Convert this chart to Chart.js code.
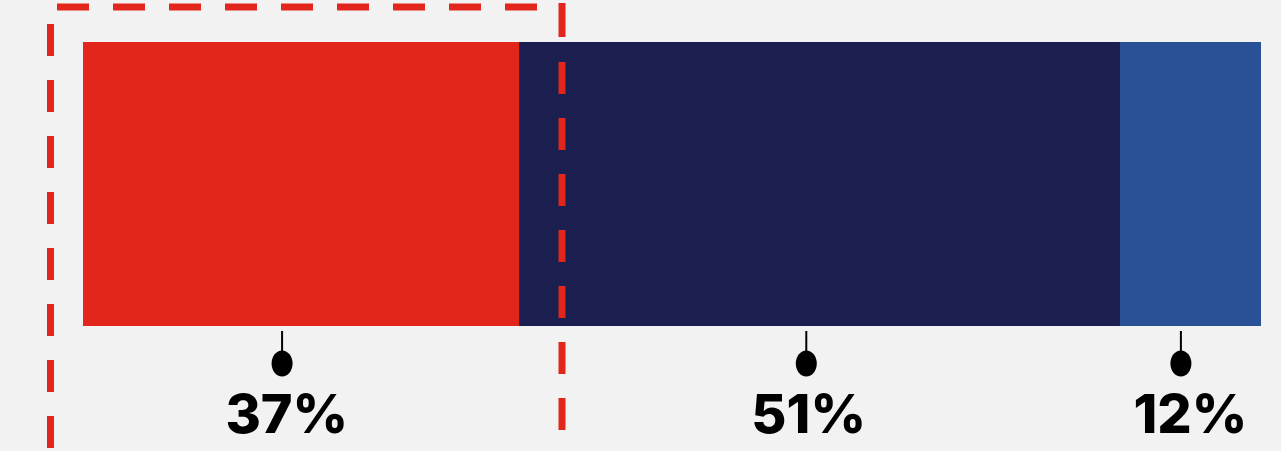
<!DOCTYPE html>
<html>
<head>
<meta charset="utf-8">
<script src="https://cdn.jsdelivr.net/npm/chart.js@4/dist/chart.umd.min.js"></script>
<style>
  html, body { margin: 0; padding: 0; background: #f2f2f2; }
  #wrap { width: 1281px; height: 451px; position: relative; }
</style>
</head>
<body>
<div id="wrap"><canvas id="c" width="1281" height="451"></canvas></div>
<script>
const categories = ['Share'];
const segmentNames = ['A', 'B', 'C'];
const values = [37, 51, 12];
const valueLabels = ['37%', '51%', '12%'];
const pinPositions = [16.9, 61.4, 93.2];
const labelPositions = [17.3, 61.6, 94.0];
const colors = ['#e2261b', '#1a1f4f', '#2a5095'];

const datasets = values.map((v, i) => ({
  label: segmentNames[i],
  data: [v],
  backgroundColor: colors[i],
  borderWidth: 0,
  barPercentage: 1,
  categoryPercentage: 1
}));

const overlay = {
  id: 'overlay',
  afterDraw(chart) {
    const ctx = chart.ctx;
    const xs = chart.scales.x;
    const area = chart.chartArea;
    ctx.save();
    // dashed highlight frame
    ctx.strokeStyle = '#e2261b';
    ctx.lineWidth = 7;
    ctx.lineCap = 'butt';
    ctx.setLineDash([32, 24]);
    // left
    ctx.lineDashOffset = 0;
    ctx.beginPath(); ctx.moveTo(50.5, 24); ctx.lineTo(50.5, 460); ctx.stroke();
    // top
    ctx.beginPath(); ctx.moveTo(57, 7); ctx.lineTo(560, 7); ctx.stroke();
    // right
    ctx.setLineDash([]);
    ctx.beginPath(); ctx.moveTo(562, 3); ctx.lineTo(562, 37); ctx.stroke();
    ctx.setLineDash([32, 24]);
    ctx.beginPath(); ctx.moveTo(562, 62); ctx.lineTo(562, 430); ctx.stroke();
    ctx.setLineDash([]);

    // pins and labels
    ctx.fillStyle = '#000';
    ctx.strokeStyle = '#000';
    ctx.lineWidth = 2;
    ctx.font = '800 54px Inter';
    ctx.textAlign = 'center';
    ctx.textBaseline = 'alphabetic';
    pinPositions.forEach((p, i) => {
      const px = xs.getPixelForValue(p);
      ctx.beginPath();
      ctx.moveTo(px, area.bottom + 5);
      ctx.lineTo(px, area.bottom + 28);
      ctx.stroke();
      ctx.beginPath();
      ctx.ellipse(px, area.bottom + 37.5, 10.5, 13, 0, 0, Math.PI * 2);
      ctx.fill();
      const lx = xs.getPixelForValue(labelPositions[i]);
      ctx.fillText(valueLabels[i], lx, 433);
    });
    ctx.restore();
  }
};

new Chart(document.getElementById('c'), {
  type: 'bar',
  data: { labels: categories, datasets },
  options: {
    indexAxis: 'y',
    responsive: false,
    animation: false,
    layout: { padding: { left: 83, right: 20, top: 42, bottom: 125 } },
    plugins: { legend: { display: false }, tooltip: { enabled: false } },
    scales: {
      x: { stacked: true, min: 0, max: 100, display: false },
      y: { stacked: true, display: false }
    }
  },
  plugins: [overlay]
});
</script>
</body>
</html>
